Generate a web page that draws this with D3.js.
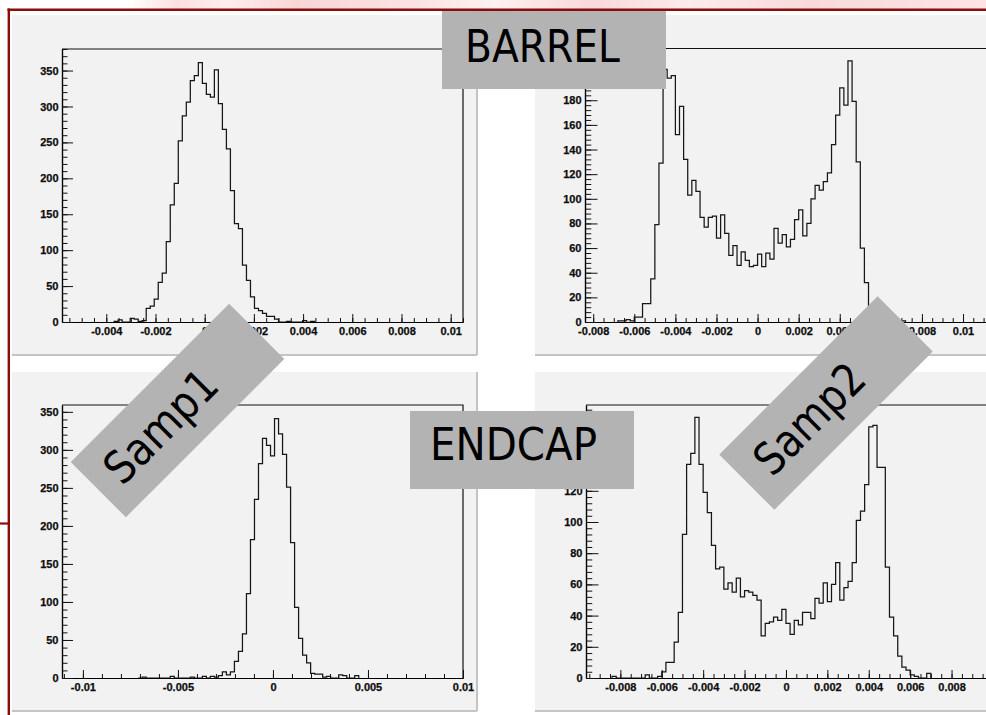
<!DOCTYPE html>
<html>
<head>
<meta charset="utf-8">
<script src="https://cdn.jsdelivr.net/npm/d3@7"></script>
<style>
  html, body { margin: 0; padding: 0; background: #ffffff; }
  svg { display: block; }
  .tick-label { font-family: "Liberation Sans", Arial, sans-serif; font-weight: bold; font-size: 11px; fill: #0d0d0d; stroke: #0d0d0d; stroke-width: 0.25px; }
  .tag { font-family: "DejaVu Sans", sans-serif; font-size: 45px; fill: #000; }
</style>
</head>
<body>
<svg id="chart" width="986" height="715"></svg>
<script>
// ---------------- Data ----------------
// Barrel, sample 1
const barrelSamp1XRange = [-0.0058, 0.0105];
const barrelSamp1YMax = 380;
const barrelSamp1BinStart = -0.003681;
const barrelSamp1BinWidth = 0.000163;
const barrelSamp1Counts = [1, 3, 0, 0, 5, 4, 1, 2,
  19, 22, 32, 55, 68, 112, 163, 193, 252, 287, 306, 336, 343, 361, 332, 317, 313, 351,
  304, 268, 241, 183, 137, 130, 79, 58, 35, 19,
  16, 12, 8, 8, 4, 0, 0, 1, 0, 0, 0, 2, 0, 1];

// Barrel, sample 2
const barrelSamp2XRange = [-0.0084, 0.0118];
const barrelSamp2YMax = 222;
const barrelSamp2BinStart = -0.0068;
const barrelSamp2BinWidth = 0.0002;
const barrelSamp2Counts = [1, 1, 2, 1, 4, 4, 15, 15, 35, 79, 129, 205, 198, 200, 152, 175,
  132, 103, 115, 106, 85, 77, 85, 86, 68, 87, 72, 54, 62, 46, 57, 50, 45, 46, 55, 45,
  56, 51, 76, 64, 71, 61, 67, 83, 91, 70, 80, 100, 111, 107, 114, 121, 144, 168, 190,
  176, 212, 179, 130, 60, 32, 9, 4, 2, 1, 0, 1, 0, 0, 1];

// Endcap, sample 1
const endcapSamp1XRange = [-0.0111, 0.0100];
const endcapSamp1YMax = 359;
const endcapSamp1BinStart = -0.007091;
const endcapSamp1BinWidth = 0.000211;
const endcapSamp1Counts = [0, 1, 0, 0, 0, 0, 0, 0, 2, 0, 0, 0, 0, 1, 0, 0, 2, 0, 2, 1, 3, 8, 4, 8,
  22, 35, 58, 111, 182, 235, 282, 315, 306, 292, 341, 321, 294, 251, 178, 93, 52, 30, 20,
  6, 5, 5, 1, 2, 0, 0, 4, 3, 0, 0, 3];

// Endcap, sample 2
const endcapSamp2XRange = [-0.00966, 0.01034];
const endcapSamp2YMax = 175;
const endcapSamp2BinStart = -0.0084;
const endcapSamp2BinWidth = 0.0002;
const endcapSamp2Counts = [1, 0, 0, 0, 0, 0, 0, 0, 2, 0, 0, 1,
  4, 10, 10, 23, 42, 92, 137, 144, 167, 137, 119, 106, 85, 70, 71, 57, 61, 55, 64, 52,
  56, 55, 53, 50, 27, 35, 36, 39, 37, 44, 35, 28, 37, 34, 42, 42, 38, 51, 48, 61, 49,
  60, 74, 50, 58, 62, 74, 101, 107, 124, 161, 162, 135, 135, 71, 39, 27, 14, 7, 5, 2,
  1, 0, 0, 3];

// Axis tick values (labelled major ticks)
const barrelSamp1XTicks = [-0.004, -0.002, 0, 0.002, 0.004, 0.006, 0.008, 0.01];
const barrelSamp2XTicks = [-0.008, -0.006, -0.004, -0.002, 0, 0.002, 0.004, 0.006, 0.008, 0.01];
const endcapSamp1XTicks = [-0.01, -0.005, 0, 0.005, 0.01];
const endcapSamp2XTicks = [-0.008, -0.006, -0.004, -0.002, 0, 0.002, 0.004, 0.006, 0.008];
const countTicksBy50 = [0, 50, 100, 150, 200, 250, 300, 350];
const barrelSamp2YTicks = [0, 20, 40, 60, 80, 100, 120, 140, 160, 180];
const endcapSamp2YTicks = [0, 20, 40, 60, 80, 100, 120];

// Overlay captions
const regionLabels = ["BARREL", "ENDCAP"];
const sampleLabels = ["Samp1", "Samp2"];

// ---------------- Layout ----------------
const panels = [
  { bg: [12, 15, 477, 355], frame: { x0: 62, x1: 463, y0: 49, y1: 322 },
    xRange: barrelSamp1XRange, yMax: barrelSamp1YMax,
    start: barrelSamp1BinStart, width: barrelSamp1BinWidth, counts: barrelSamp1Counts,
    xMajor: barrelSamp1XTicks, xMinorStep: 0.0005, yMajor: countTicksBy50, yMinorStep: 10, yTick: 11 },
  { bg: [535, 15, 990, 355], frame: { x0: 585, x1: 1000, y0: 48.5, y1: 322 },
    xRange: barrelSamp2XRange, yMax: barrelSamp2YMax,
    start: barrelSamp2BinStart, width: barrelSamp2BinWidth, counts: barrelSamp2Counts,
    xMajor: barrelSamp2XTicks, xMinorStep: 0.0005, yMajor: barrelSamp2YTicks, yMinorStep: 4, yTick: 12.5 },
  { bg: [12, 372, 477, 711], frame: { x0: 62, x1: 463, y0: 405, y1: 678 },
    xRange: endcapSamp1XRange, yMax: endcapSamp1YMax,
    start: endcapSamp1BinStart, width: endcapSamp1BinWidth, counts: endcapSamp1Counts,
    xMajor: endcapSamp1XTicks, xMinorStep: 0.001, yMajor: countTicksBy50, yMinorStep: 10, yTick: 11 },
  { bg: [535, 372, 990, 711], frame: { x0: 586, x1: 1000, y0: 405, y1: 678 },
    xRange: endcapSamp2XRange, yMax: endcapSamp2YMax,
    start: endcapSamp2BinStart, width: endcapSamp2BinWidth, counts: endcapSamp2Counts,
    xMajor: endcapSamp2XTicks, xMinorStep: 0.0005, yMajor: endcapSamp2YTicks, yMinorStep: 4, yTick: 12.5 }
];

const regionBoxes = [
  { x: 442, y: 11, w: 224, h: 78, tx: 465, ty: 62, len: 155 },
  { x: 410, y: 411, w: 224, h: 78, tx: 430, ty: 460, len: 167 }
];
const sampleBoxes = [
  { cx: 177.5, cy: 410.5, w: 224, h: 78, tu: -23, tv: 15, len: 140 },
  { cx: 826, cy: 403, w: 224, h: 78, tu: -23, tv: 15, len: 136 }
];

// ---------------- Drawing ----------------
const svg = d3.select("#chart");
const defs = svg.append("defs");

// pale slide header strip
const grad = defs.append("linearGradient").attr("id", "hdr").attr("x1", "0").attr("x2", "1").attr("y1", "0").attr("y2", "0");
[[0, "#ffffff"], [0.13, "#ffffff"], [0.18, "#fbe0e0"], [0.23, "#fdeeee"], [0.3, "#f8d6d6"],
 [0.42, "#fbe2e2"], [0.5, "#fdf0f0"], [0.6, "#f9d9d9"], [0.7, "#fcebeb"], [0.82, "#f8dada"], [1, "#fce4e4"]]
  .forEach(([o, c]) => grad.append("stop").attr("offset", o).attr("stop-color", c));
svg.append("rect").attr("x", 0).attr("y", 0).attr("width", 986).attr("height", 9).attr("fill", "url(#hdr)");

const fmt = v => String(+v.toFixed(6));

panels.forEach((p, idx) => {
  const g = svg.append("g");
  const [bx0, by0, bx1, by1] = p.bg;
  g.append("rect").attr("x", bx0).attr("y", by0).attr("width", bx1 - bx0).attr("height", by1 - by0).attr("fill", "#f2f2f2");
  g.append("line").attr("x1", bx0).attr("x2", bx1).attr("y1", by1).attr("y2", by1).attr("stroke", "#c4c4c4").attr("stroke-width", 2);
  g.append("line").attr("x1", bx1).attr("x2", bx1).attr("y1", by0).attr("y2", by1).attr("stroke", "#c4c4c4").attr("stroke-width", 2);

  const f = p.frame;
  const x = d3.scaleLinear().domain(p.xRange).range([f.x0, f.x1]);
  const y = d3.scaleLinear().domain([0, p.yMax]).range([f.y1, f.y0]);

  // histogram outline
  const clipId = "clip" + idx;
  defs.append("clipPath").attr("id", clipId).append("rect")
    .attr("x", f.x0).attr("y", f.y0).attr("width", f.x1 - f.x0).attr("height", f.y1 - f.y0 + 1);
  const n = p.counts.length;
  const pts = [[p.start, 0]];
  p.counts.forEach((c, i) => pts.push([p.start + i * p.width, c]));
  pts.push([p.start + n * p.width, p.counts[n - 1]]);
  pts.push([p.start + n * p.width, 0]);
  const line = d3.line().x(d => x(d[0])).y(d => y(d[1])).curve(d3.curveStepAfter);
  g.append("path").attr("clip-path", `url(#${clipId})`).attr("d", line(pts))
    .attr("fill", "none").attr("stroke", "#161616").attr("stroke-width", 1.25);

  // axes (ticks point into the frame)
  const lo = p.xRange[0], hi = p.xRange[1];
  const xMinor = d3.range(Math.ceil(lo / p.xMinorStep), Math.floor(hi / p.xMinorStep) + 1).map(k => k * p.xMinorStep);
  const yMinor = d3.range(0, p.yMax + 1e-9, p.yMinorStep);

  const gx = g.append("g").attr("transform", `translate(0,${f.y1})`);
  gx.append("g").call(d3.axisBottom(x).tickValues(xMinor).tickSize(-4).tickSizeOuter(0).tickFormat(""));
  gx.append("g").call(d3.axisBottom(x).tickValues(p.xMajor).tickSize(-8).tickSizeOuter(0).tickPadding(5.5).tickFormat(fmt));

  const gy = g.append("g").attr("transform", `translate(${f.x0},0)`);
  gy.append("g").call(d3.axisLeft(y).tickValues(yMinor).tickSize(-p.yTick / 2).tickSizeOuter(0).tickFormat(""));
  gy.append("g").call(d3.axisLeft(y).tickValues(p.yMajor).tickSize(-p.yTick).tickSizeOuter(0).tickPadding(3.5).tickFormat(d3.format("d")));

  g.selectAll(".domain").attr("stroke", "#000").attr("stroke-width", 1.2);
  g.selectAll(".tick line").attr("stroke", "#111").attr("stroke-width", 1);
  g.selectAll(".tick text").attr("class", "tick-label");
  gx.selectAll("g").attr("font-size", null).attr("font-family", null);
  gy.selectAll("g").attr("font-size", null).attr("font-family", null);

  // frame top and right edges
  g.append("path").attr("d", `M${f.x0},${f.y0}H${f.x1}V${f.y1}`).attr("fill", "none").attr("stroke", "#111").attr("stroke-width", 1.2);
});

// slide border lines
const border = "#8c0c0c";
svg.append("line").attr("x1", 7.5).attr("x2", 986).attr("y1", 9.7).attr("y2", 9.7).attr("stroke", border).attr("stroke-width", 2.4);
svg.append("line").attr("x1", 8.8).attr("x2", 8.8).attr("y1", 8.5).attr("y2", 715).attr("stroke", border).attr("stroke-width", 2.4);
svg.append("line").attr("x1", 0).attr("x2", 9).attr("y1", 523.5).attr("y2", 523.5).attr("stroke", border).attr("stroke-width", 2.2);

// region captions
regionBoxes.forEach((b, i) => {
  svg.append("rect").attr("x", b.x).attr("y", b.y).attr("width", b.w).attr("height", b.h).attr("fill", "#b3b3b3");
  svg.append("text").attr("class", "tag").attr("x", b.tx).attr("y", b.ty)
    .attr("textLength", b.len).attr("lengthAdjust", "spacingAndGlyphs").text(regionLabels[i]);
});

// tilted sample captions
sampleBoxes.forEach((b, i) => {
  const g = svg.append("g").attr("transform", `translate(${b.cx},${b.cy}) rotate(-45)`);
  g.append("rect").attr("x", -b.w / 2).attr("y", -b.h / 2).attr("width", b.w).attr("height", b.h).attr("fill", "#b3b3b3");
  g.append("text").attr("class", "tag").attr("x", b.tu).attr("y", b.tv).attr("text-anchor", "middle")
    .attr("textLength", b.len).attr("lengthAdjust", "spacingAndGlyphs").text(sampleLabels[i]);
});
</script>
</body>
</html>
